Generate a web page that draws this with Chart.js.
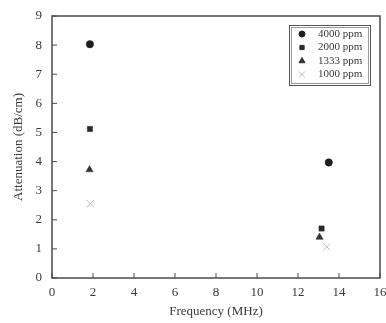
<!DOCTYPE html>
<html>
<head>
<meta charset="utf-8">
<script src="https://cdn.jsdelivr.net/npm/chart.js@4/dist/chart.umd.min.js"></script>
<style>
    html, body { margin: 0; padding: 0; background: #fff; }
    #wrap { width: 386px; height: 323px; }
</style>
</head>
<body>
<div id="wrap"><canvas id="chart" width="386" height="323"></canvas></div>
<script>
const seriesNames = ['4000 ppm', '2000 ppm', '1333 ppm', '1000 ppm'];
const freqLow = [1.85, 1.85, 1.83, 1.87];
const freqHigh = [13.5, 13.15, 13.05, 13.4];
const attenLow = [8.03, 5.12, 3.72, 2.55];
const attenHigh = [3.97, 1.7, 1.4, 1.07];
const markerStyles = ['circle', 'rect', 'triangle', 'crossRot'];
const markerColors = ['#1e1e1e', '#2a2a2a', '#333333', '#b8b8b8'];
const markerSizes = [3.7, 3.7, 4.2, 5];
const xTicks = [0, 2, 4, 6, 8, 10, 12, 14, 16];
const yTicks = [0, 1, 2, 3, 4, 5, 6, 7, 8, 9];

const serif = "'Liberation Serif', 'DejaVu Serif', serif";
const inkColor = '#3a3a3a';

const datasets = seriesNames.map((name, i) => ({
    label: name,
    data: [
        { x: freqLow[i], y: attenLow[i] },
        { x: freqHigh[i], y: attenHigh[i] }
    ],
    pointStyle: markerStyles[i],
    pointRadius: markerSizes[i],
    backgroundColor: markerColors[i],
    borderColor: markerColors[i],
    borderWidth: i === 3 ? 1 : 0.5
}));

// frame around the plot plus small inward tick marks
const framePlugin = {
    id: 'frame',
    afterDraw(chart) {
        const ctx = chart.ctx;
        const area = chart.chartArea;
        const xs = chart.scales.x;
        const ys = chart.scales.y;
        ctx.save();
        ctx.strokeStyle = '#4a4a4a';
        ctx.lineWidth = 1.5;
        ctx.strokeRect(area.left, area.top, area.right - area.left, area.bottom - area.top);
        ctx.lineWidth = 1;
        xTicks.forEach(v => {
            const px = xs.getPixelForValue(v);
            ctx.beginPath();
            ctx.moveTo(px, area.bottom);
            ctx.lineTo(px, area.bottom - 5);
            ctx.stroke();
        });
        yTicks.forEach(v => {
            const py = ys.getPixelForValue(v);
            ctx.beginPath();
            ctx.moveTo(area.left, py);
            ctx.lineTo(area.left + 5, py);
            ctx.stroke();
        });
        ctx.restore();
    }
};

// boxed legend inside the plot, top right
const legendPlugin = {
    id: 'boxLegend',
    afterDraw(chart) {
        const ctx = chart.ctx;
        const boxX = 289, boxY = 25, boxW = 81, boxH = 60;
        ctx.save();
        ctx.strokeStyle = '#555';
        ctx.lineWidth = 1;
        ctx.strokeRect(boxX + 0.5, boxY + 0.5, boxW, boxH);
        ctx.strokeStyle = '#999';
        ctx.strokeRect(boxX + 2.5, boxY + 2.5, boxW - 4, boxH - 4);
        ctx.font = '11px ' + serif;
        ctx.textBaseline = 'middle';
        seriesNames.forEach((name, i) => {
            const cy = boxY + 9 + i * 13.5;
            ctx.fillStyle = markerColors[i];
            ctx.strokeStyle = markerColors[i];
            ctx.lineWidth = 1;
            Chart.helpers.drawPoint(ctx, {
                pointStyle: markerStyles[i],
                radius: markerSizes[i] - 0.7,
                rotation: 0,
                borderWidth: 1
            }, boxX + 13, cy);
            ctx.fillStyle = inkColor;
            ctx.fillText(name, boxX + 29, cy);
        });
        ctx.restore();
    }
};

new Chart(document.getElementById('chart'), {
    type: 'scatter',
    data: { datasets: datasets },
    options: {
        responsive: false,
        animation: false,
        layout: { padding: { top: 16, right: 5, left: 0, bottom: 0 } },
        plugins: {
            legend: { display: false },
            tooltip: { enabled: false }
        },
        scales: {
            x: {
                type: 'linear',
                min: 0,
                max: 16,
                afterBuildTicks(scale) { scale.ticks = xTicks.map(v => ({ value: v })); },
                afterFit(scale) {
                    scale.height = 45;
                    scale.paddingRight = 0;
                    scale.paddingLeft = 0;
                },
                grid: { display: false, drawTicks: false },
                border: { display: false },
                ticks: {
                    padding: 7,
                    color: inkColor,
                    font: { family: serif, size: 13 }
                },
                title: {
                    display: true,
                    text: 'Frequency (MHz)',
                    color: inkColor,
                    font: { family: serif, size: 13 },
                    padding: { top: 2, bottom: 4 }
                }
            },
            y: {
                type: 'linear',
                min: 0,
                max: 9,
                afterBuildTicks(scale) { scale.ticks = yTicks.map(v => ({ value: v })); },
                afterFit(scale) {
                    scale.width = 52;
                    scale.paddingTop = 0;
                    scale.paddingBottom = 0;
                },
                grid: { display: false, drawTicks: false },
                border: { display: false },
                ticks: {
                    padding: 10,
                    color: inkColor,
                    font: { family: serif, size: 13 }
                },
                title: {
                    display: true,
                    text: 'Attenuation (dB/cm)',
                    color: inkColor,
                    font: { family: serif, size: 13 },
                    padding: { top: 11, bottom: 2 }
                }
            }
        }
    },
    plugins: [framePlugin, legendPlugin]
});
</script>
</body>
</html>
